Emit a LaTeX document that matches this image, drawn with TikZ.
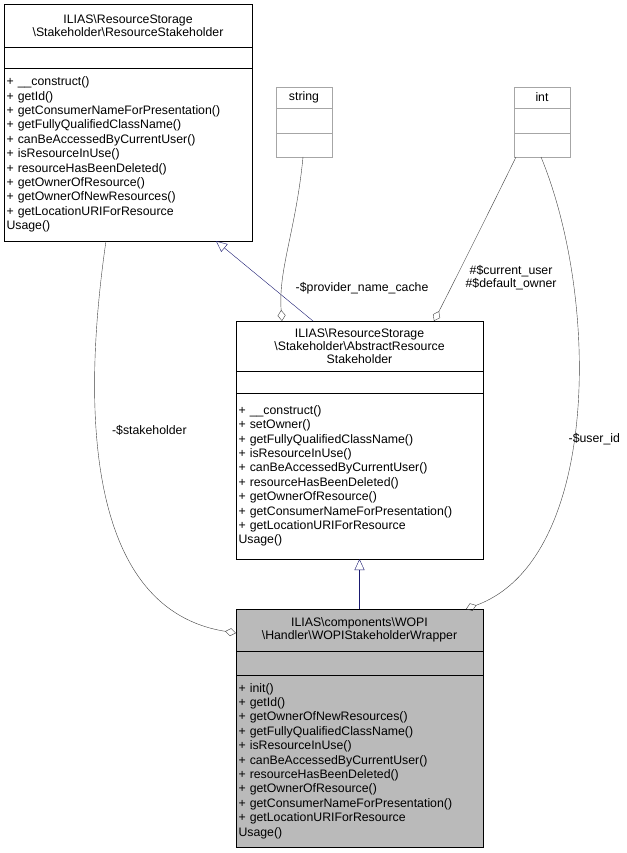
\documentclass[tikz,border=0pt]{standalone}
\usepackage{fontspec}
\setmainfont{Liberation Sans}
\usetikzlibrary{positioning,arrows.meta,calc}

\begin{document}
\begin{tikzpicture}[x=1pt,y=-1pt,
  font=\fontsize{12.3}{13}\selectfont,
  part/.style={draw=black,rectangle,inner sep=2.5pt,outer sep=0pt,anchor=north west},
  title/.style={part,align=center},
  meth/.style={part,align=left,font=\fontsize{12.3}{14.4}\selectfont},
  inherit/.style={draw=navy,-{Triangle[open,length=11pt,width=10pt]}},
  member/.style={draw=black!75,-{Diamond[open,length=11pt,width=8pt]}},
  elabel/.style={font=\fontsize{12.3}{12.5}\selectfont,align=center}]
\definecolor{navy}{RGB}{25,25,112}
\useasboundingbox (0,0) rectangle (626,853);

% ResourceStakeholder
\node[title,text width=243pt,minimum height=43pt] (rsT) at (4,4)
  {ILIAS\textbackslash ResourceStorage\\\textbackslash Stakeholder\textbackslash ResourceStakeholder};
\node[part,text width=243pt,minimum height=21pt,below=0pt of rsT] (rsE) {};
\node[meth,text width=243pt,minimum height=173pt,below=0pt of rsE] (rsM)
  {+ \_\_construct()\\+ getId()\\+ getConsumerNameForPresentation()\\+ getFullyQualifiedClassName()\\
   + canBeAccessedByCurrentUser()\\+ isResourceInUse()\\+ resourceHasBeenDeleted()\\
   + getOwnerOfResource()\\+ getOwnerOfNewResources()\\+ getLocationURIForResource\\Usage()};

% string
\node[title,draw=black!35,text width=51pt,minimum height=21pt] (strT) at (276,87) {string};
\node[part,draw=black!35,text width=51pt,minimum height=25pt,below=0pt of strT] (strE) {};
\node[part,draw=black!35,text width=51pt,minimum height=24pt,below=0pt of strE] (strM) {};

% int
\node[title,draw=black!35,text width=51pt,minimum height=21pt] (intT) at (514,87) {int};
\node[part,draw=black!35,text width=51pt,minimum height=25pt,below=0pt of intT] (intE) {};
\node[part,draw=black!35,text width=51pt,minimum height=24pt,below=0pt of intE] (intM) {};

% AbstractResourceStakeholder
\node[title,text width=242pt,minimum height=50pt] (abT) at (236,321)
  {ILIAS\textbackslash ResourceStorage\\\textbackslash Stakeholder\textbackslash AbstractResource\\Stakeholder};
\node[part,text width=242pt,minimum height=22pt,below=0pt of abT] (abE) {};
\node[meth,text width=242pt,minimum height=166pt,below=0pt of abE] (abM)
  {+ \_\_construct()\\+ setOwner()\\+ getFullyQualifiedClassName()\\+ isResourceInUse()\\
   + canBeAccessedByCurrentUser()\\+ resourceHasBeenDeleted()\\+ getOwnerOfResource()\\
   + getConsumerNameForPresentation()\\+ getLocationURIForResource\\Usage()};

% WOPIStakeholderWrapper
\node[title,fill=black!27,text width=242pt,minimum height=42pt] (wrT) at (236,609)
  {ILIAS\textbackslash components\textbackslash WOPI\\\textbackslash Handler\textbackslash WOPIStakeholderWrapper};
\node[part,fill=black!27,text width=242pt,minimum height=24pt,below=0pt of wrT] (wrE) {};
\node[meth,fill=black!27,text width=242pt,minimum height=172pt,below=0pt of wrE] (wrM)
  {+ init()\\+ getId()\\+ getOwnerOfNewResources()\\+ getFullyQualifiedClassName()\\
   + isResourceInUse()\\+ canBeAccessedByCurrentUser()\\+ resourceHasBeenDeleted()\\
   + getOwnerOfResource()\\+ getConsumerNameForPresentation()\\+ getLocationURIForResource\\Usage()};

% inheritance
\draw[inherit] ($(abT.north west)+(77,0)$) -- ($(rsM.south west)+(212,0)$);
\draw[inherit] (wrT.north) -- (abM.south);

% members
\draw[member] ($(strM.south west)+(27,0)$) .. controls (296,230) and (278,270) .. ($(abT.north west)+(46,0)$)
  node[elabel,pos=0.78,right=10pt] {-\$provider\_name\_cache};
\draw[member] ($(intM.south west)+(2,0)$) .. controls (490,210) and (455,280) .. ($(abT.north west)+(198,0)$)
  node[elabel,pos=0.7,right=6pt] {\#\$current\_user\\\#\$default\_owner};
\draw[member] ($(intM.south west)+(27,0)$) .. controls (600,300) and (600,560) .. ($(wrT.north west)+(230,0)$)
  node[elabel,pos=0.54,right=-8pt] {-\$user\_id};
\draw[member] ($(rsM.south west)+(102,0)$) .. controls (80,420) and (90,610) .. ($(wrT.north west)+(0,24)$)
  node[elabel,pos=0.36,right=12pt] {-\$stakeholder};
\end{tikzpicture}
\end{document}
